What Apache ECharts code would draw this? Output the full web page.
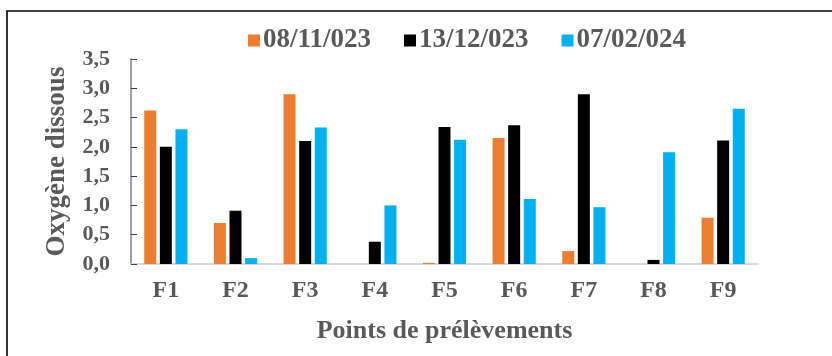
<!DOCTYPE html>
<html>
<head>
<meta charset="utf-8">
<script src="https://cdn.jsdelivr.net/npm/echarts@6/dist/echarts.min.js"></script>
<style>
  html, body { margin: 0; padding: 0; background: #fff; }
  #chart { width: 832px; height: 356px; }
</style>
</head>
<body>
<div id="chart"></div>
<script>
// Sampling points and dissolved-oxygen values per campaign
const categories = ['F1', 'F2', 'F3', 'F4', 'F5', 'F6', 'F7', 'F8', 'F9'];
const seriesNames = ['08/11/023', '13/12/023', '07/02/024'];
const nov2023 = [2.62, 0.70, 2.90, 0.00, 0.02, 2.15, 0.22, 0.00, 0.79];
const dec2023 = [2.00, 0.91, 2.10, 0.38, 2.34, 2.37, 2.90, 0.07, 2.11];
const feb2024 = [2.30, 0.10, 2.33, 1.00, 2.12, 1.11, 0.97, 1.91, 2.65];
const colors = ['#ED7D31', '#000000', '#00B0F0'];

const textColor = '#595959';
const font = '"Liberation Serif", "Times New Roman", serif';

const chart = echarts.init(document.getElementById('chart'));

const seriesData = [nov2023, dec2023, feb2024];

chart.setOption({
  animation: false,
  textStyle: { fontFamily: font },
  graphic: [{
    type: 'rect',
    shape: { x: 7, y: 11, width: 900, height: 400 },
    style: { fill: 'none', stroke: '#000', lineWidth: 1.6 },
    silent: true
  }],
  legend: {
    top: 27,
    left: 248,
    padding: 0,
    itemWidth: 12,
    itemHeight: 12,
    itemGap: 33,
    icon: 'rect',
    textStyle: {
      fontFamily: font, fontWeight: 'bold', fontSize: 27, color: textColor,
      padding: [0, 0, 0, -2]
    },
    data: seriesNames
  },
  grid: { left: 131, right: 74, top: 59, bottom: 92 },
  xAxis: {
    type: 'category',
    data: categories,
    name: 'Points de prélèvements',
    nameLocation: 'middle',
    nameGap: 54,
    nameTextStyle: { fontFamily: font, fontWeight: 'bold', fontSize: 26, color: textColor },
    axisLine: { lineStyle: { color: '#D9D9D9', width: 2 } },
    axisTick: { show: false },
    axisLabel: { fontFamily: font, fontWeight: 'bold', fontSize: 24, color: textColor, margin: 15 }
  },
  yAxis: {
    type: 'value',
    min: 0,
    max: 3.5,
    interval: 0.5,
    name: 'Oxygène dissous',
    nameLocation: 'middle',
    nameGap: 60,
    nameRotate: 90,
    nameTextStyle: { fontFamily: font, fontWeight: 'bold', fontSize: 27, color: textColor },
    axisLine: { show: true, lineStyle: { color: '#7F7F7F', width: 1.5 } },
    axisTick: { show: true, inside: true, length: 6, lineStyle: { color: '#404040', width: 1 } },
    splitLine: { show: false },
    axisLabel: {
      fontFamily: font, fontWeight: 'bold', fontSize: 22, color: textColor, margin: 21,
      formatter: v => v.toFixed(1).replace('.', ',')
    }
  },
  series: seriesNames.map((name, i) => ({
    name: name,
    type: 'bar',
    data: seriesData[i],
    barWidth: 12,
    barGap: '30%',
    itemStyle: { color: colors[i] }
  }))
});
</script>
</body>
</html>
